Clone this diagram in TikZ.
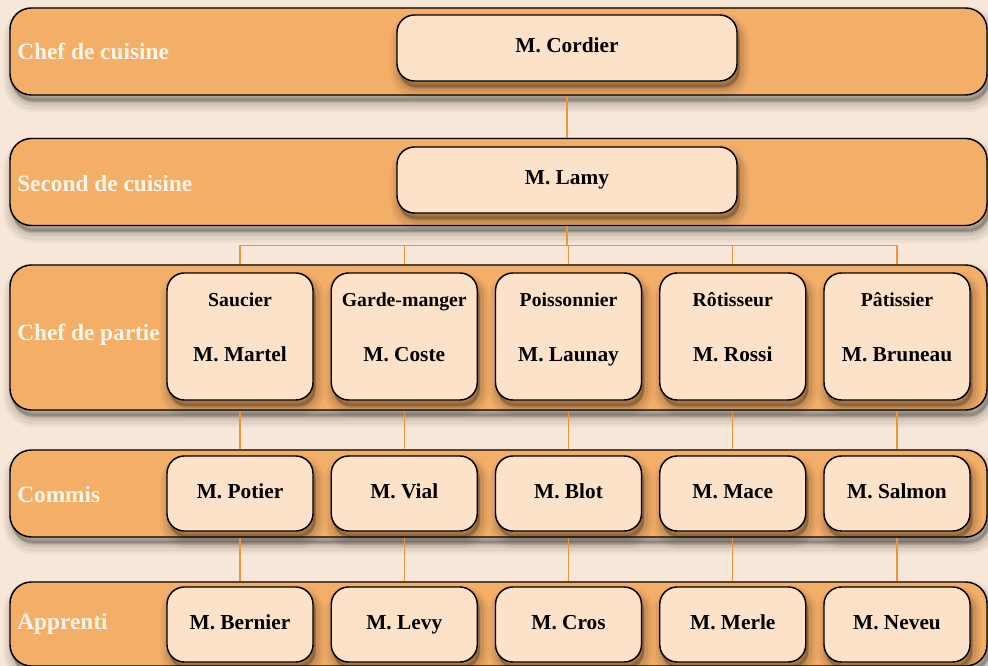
\documentclass[tikz,border=0pt]{standalone}
\usepackage{fontspec}
\setmainfont{Liberation Serif}
\usepackage{tikz}
\usetikzlibrary{positioning, shadows}
\definecolor{kBg}{RGB}{246,231,216}
\definecolor{kBand}{RGB}{243,174,104}
\definecolor{kBox}{RGB}{252,226,200}
\definecolor{kLink}{RGB}{237,148,58}
\definecolor{kTxt}{RGB}{255,246,234}

\begin{document}
\begin{tikzpicture}[
    x=0.75pt, y=-0.75pt,
    soft/.style={
      general shadow={fill=black, draw=black, line width=14pt, opacity=.035,
                      shadow xshift=2pt, shadow yshift=-6pt},
      general shadow={fill=black, draw=black, line width=10pt, opacity=.05,
                      shadow xshift=2pt, shadow yshift=-6pt},
      general shadow={fill=black, draw=black, line width=6pt, opacity=.07,
                      shadow xshift=2pt, shadow yshift=-5pt},
      general shadow={fill=black, draw=black, line width=2pt, opacity=.1,
                      shadow xshift=1.5pt, shadow yshift=-4pt}},
    band/.style={draw=black, line width=1.1pt, fill=kBand, rounded corners=16pt,
                 minimum width=732.75pt, minimum height=65.25pt, inner sep=0pt, soft},
    boxbase/.style={draw=black, line width=1.1pt, fill=kBox, rounded corners=13pt,
                    minimum width=109.5pt, minimum height=56.25pt, inner sep=0pt,
                    align=center, font=\bfseries\fontsize{16}{19}\selectfont, soft},
    box/.style={boxbase, text height=10.5pt, text depth=3.5pt},
    wide/.style={box, minimum width=255pt, minimum height=49.5pt},
    tall/.style={boxbase, minimum height=95.25pt, text depth=14pt},
    ttl/.style={anchor=west, text=kTxt, inner sep=0pt,
                font=\bfseries\fontsize{17.5}{20}\selectfont},
    link/.style={draw=kLink, line width=1pt}
  ]
  \useasboundingbox (0,0) rectangle (988,666);
  \fill[kBg] (0,0) rectangle (988,666);

  % bands
  \node[band] (bandA) at (498.5,51.5) {};
  \node[band] (bandB) at (498.5,182) {};
  \node[band, minimum height=108.75pt] (bandC) at (498.5,337.5) {};
  \node[band] (bandD) at (498.5,493.5) {};
  \node[band, minimum height=63pt] (bandE) at (498.5,624) {};
  \node[ttl] (ttlA) at (17,51.5) {Chef de cuisine};
  \node[ttl] (ttlB) at (17,184) {Second de cuisine};
  \node[ttl] (ttlC) at (17,335) {Chef de partie};
  \node[ttl] (ttlD) at (17,495) {Commis};
  \node[ttl] (ttlE) at (17,624) {Apprenti};

  % top
  \node[wide] (cordier) at (567,48) {M. Cordier};
  \node[wide] (lamy) at (567,180) {M. Lamy};
  \draw[link] (bandA.south -| cordier) -- (bandB.north -| lamy);

  % brigade
  \foreach \i/\r/\c/\m/\a in {0/Saucier/Martel/Potier/Bernier,
                              1/Garde-manger/Coste/Vial/Levy,
                              2/Poissonnier/Launay/Blot/Cros,
                              3/Rôtisseur/Rossi/Mace/Merle,
                              4/Pâtissier/Bruneau/Salmon/Neveu} {
    \pgfmathsetmacro{\x}{240 + \i*164.25}
    \node[tall] (chef\i) at (\x,336.5)
      {{\fontsize{14.8}{18}\selectfont \r}\\[22pt] M. \c};
    \node[box] (commis\i) at (\x,493.5) {M. \m};
    \node[box] (appr\i) at (\x,624.5) {M. \a};
    \draw[link] (bandB.south -| lamy) -- ++(0,19.5) -| (bandC.north -| chef\i);
    \draw[link] (bandC.south -| chef\i) -- (bandD.north -| commis\i);
    \draw[link] (bandD.south -| commis\i) -- (bandE.north -| appr\i);
  }
\end{tikzpicture}
\end{document}
